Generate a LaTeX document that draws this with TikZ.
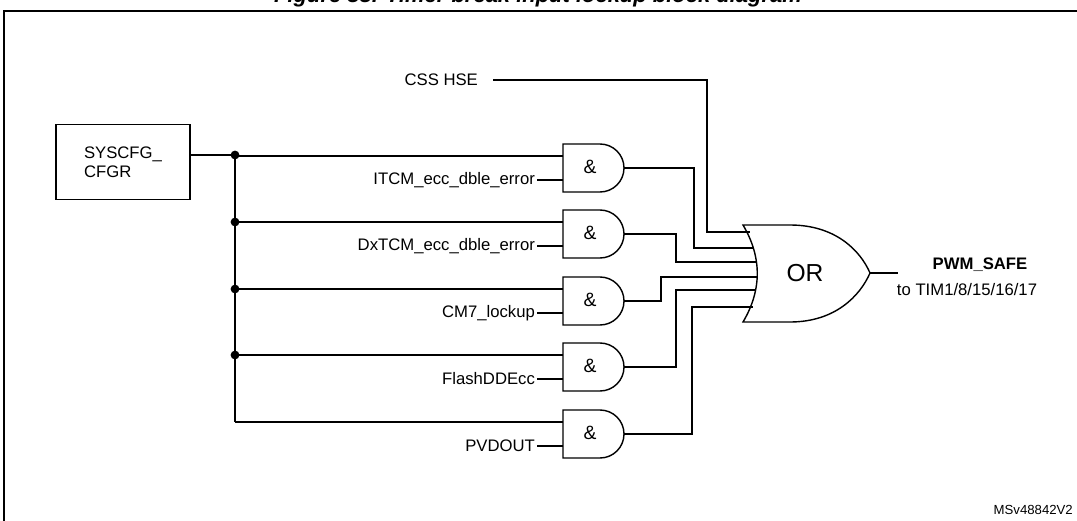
\documentclass[tikz,border=0pt]{standalone}
\usepackage{fontspec}
\setmainfont{Liberation Sans}
\usetikzlibrary{calc, positioning}
\tikzstyle{lbl}=[inner sep=1pt, font=\fontsize{9.5}{11}\selectfont]
\tikzstyle{dot}=[circle, fill=black, inner sep=0pt, minimum size=5pt]
\tikzstyle{wire}=[line width=0.8pt]

\begin{document}
\begin{tikzpicture}[x=0.02cm, y=0.02cm, line join=miter]
\useasboundingbox (0,0) rectangle (1077,-520);
% the title and frame
\node[font=\bfseries\itshape\fontsize{12.5}{14}\selectfont] (title) at (538,3) {Figure 88. Timer break input lockup block diagram};
\draw[line width=1pt] (4,-560) -- (4,-11) -- (1090,-11);
\node[font=\fontsize{7.5}{9}\selectfont, anchor=east] (ref) at (1079,-510) {MSv48842V2};
% the config register
\node[draw, wire, minimum width=2.68cm, minimum height=1.5cm, lbl, align=left] (cfg) at (123,-162) {SYSCFG\_\\CFGR};
\coordinate (J0) at (235,-155);
\draw[wire] (cfg.east |- J0) -- (J0);
% the AND gates
\foreach \n/\t/\txt in {1/144/ITCM\_ecc\_dble\_error, 2/210/DxTCM\_ecc\_dble\_error,
  3/277/CM7\_lockup, 4/343/FlashDDEcc, 5/410/PVDOUT} {
  \draw[wire] (563,-\t) -- (600,-\t) arc (90:-90:24) -- (563,-\t-48) -- cycle;
  \node[font=\fontsize{11}{13}\selectfont] (G\n) at (590,-\t-23) {\&};
  \coordinate (G\n a) at (563,-\t-12);
  \coordinate (G\n b) at (563,-\t-36);
  \coordinate (G\n o) at (624,-\t-24);
  \node[lbl, anchor=east] (L\n) at (537,-\t-36) {\txt};
  \draw[wire] (L\n) -- (G\n b);
  \coordinate (B\n) at (235,-\t-12);
  \draw[wire] (B\n) -- (G\n a);
}
% the bus
\draw[wire] (J0) -- (B5);
\node[dot] at (J0) {};
\node[dot] at (B2) {};
\node[dot] at (B3) {};
\node[dot] at (B4) {};
% the OR gate
\draw[wire] (743,-225) -- (790,-225) .. controls (835,-225) and (860,-250) .. (870,-273)
  .. controls (860,-296) and (835,-322) .. (790,-322) -- (743,-322)
  .. controls (762,-290) and (762,-257) .. cycle;
\node[font=\fontsize{14}{16}\selectfont] (OR) at (805,-273) {OR};
\coordinate (ORo) at (870,-273);
% the OR inputs
\node[lbl, anchor=east] (css) at (480,-80) {CSS HSE};
\draw[wire] (493,-80) -- (707,-80) -- (707,-232) -- (750,-232);
\draw[wire] (G1o) -- (694,-168) -- (694,-248) -- (754,-248);
\draw[wire] (G2o) -- (676,-234) -- (676,-262) -- (756,-262);
\draw[wire] (G3o) -- (661,-301) -- (661,-277) -- (757,-277);
\draw[wire] (G4o) -- (676,-367) -- (676,-290) -- (756,-290);
\draw[wire] (G5o) -- (692,-434) -- (692,-307) -- (753,-307);
% the output
\coordinate (Out) at (898,-273);
\draw[wire] (ORo) -- (Out);
\node[lbl, font=\bfseries\fontsize{9.5}{11}\selectfont] (pwm) at (980,-265) {PWM\_SAFE};
\node[lbl] (tim) at (967,-290) {to TIM1/8/15/16/17};
\end{tikzpicture}
\end{document}
